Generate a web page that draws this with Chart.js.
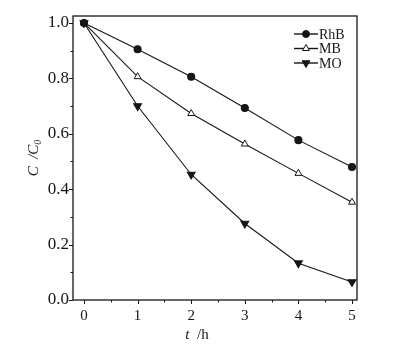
<!DOCTYPE html>
<html>
<head>
<meta charset="utf-8">
<script src="https://cdn.jsdelivr.net/npm/chart.js@4/dist/chart.umd.min.js"></script>
<style>
  body { margin: 0; background: #fff; }
  #wrap { width: 414px; height: 347px; }
</style>
</head>
<body>
<div id="wrap"><canvas id="myChart" width="414" height="347"></canvas></div>
<script>
/* data */
var times = [0, 1, 2, 3, 4, 5];
var rhb = [1.0, 0.905, 0.806, 0.693, 0.577, 0.48];
var mb  = [1.0, 0.806, 0.673, 0.563, 0.457, 0.353];
var mo  = [1.0, 0.70, 0.453, 0.276, 0.133, 0.065];
var seriesNames = ["RhB", "MB", "MO"];

var xTicks = [0, 1, 2, 3, 4, 5];
var xMinor = [0.5, 1.5, 2.5, 3.5, 4.5];
var yTicks = [0.0, 0.2, 0.4, 0.6, 0.8, 1.0];
var yMinor = [0.1, 0.3, 0.5, 0.7, 0.9];

var ink = "#161616";
var serif = "'Liberation Serif', 'DejaVu Serif', serif";

function toPoints(vals){
  var out = [];
  for (var i = 0; i < times.length; i++) {
    out.push({x: times[i], y: vals[i]});
  }
  return out
}

/*frame, minor/major ticks, axis titles and the legend*/
var decor = {
  id: 'decor',
  afterDraw: function(chart){
    var ctx = chart.ctx;
    var a = chart.chartArea;
    var xs = chart.scales.x, ys = chart.scales.y;
    ctx.save();
    ctx.strokeStyle = ink;
    ctx.lineWidth = 1.3;
    ctx.strokeRect(a.left, a.top, a.right - a.left, a.bottom - a.top);

    ctx.lineWidth = 1;
    ctx.beginPath();
    yTicks.forEach(function(v){
      var p = Math.round(ys.getPixelForValue(v)) + 0.5;
      ctx.moveTo(a.left - 4, p); ctx.lineTo(a.left, p);
    });
    yMinor.forEach(function(v){
      var p = Math.round(ys.getPixelForValue(v)) + 0.5;
      ctx.moveTo(a.left - 2.5, p); ctx.lineTo(a.left, p);
    });
    xTicks.forEach(function(v){
      var p = Math.round(xs.getPixelForValue(v)) + 0.5;
      ctx.moveTo(p, a.bottom); ctx.lineTo(p, a.bottom + 4);
    });
    xMinor.forEach(function(v){
      var p = Math.round(xs.getPixelForValue(v)) + 0.5;
      ctx.moveTo(p, a.bottom); ctx.lineTo(p, a.bottom + 2.5);
    });
    ctx.stroke();

    // x title: t /h
    ctx.fillStyle = ink;
    ctx.textBaseline = 'alphabetic';
    ctx.textAlign = 'left';
    ctx.font = 'italic 15px ' + serif;
    var w1 = ctx.measureText('t').width;
    ctx.font = '15px ' + serif;
    var w2 = ctx.measureText('  /h').width;
    var sx = 197 - (w1 + w2) / 2;
    ctx.font = 'italic 15px ' + serif;
    ctx.fillText('t', sx, 339);
    ctx.font = '15px ' + serif;
    ctx.fillText('  /h', sx + w1, 339);

    // y title: C /C0
    ctx.translate(38, 158);
    ctx.rotate(-Math.PI / 2);
    ctx.font = 'italic 15px ' + serif;
    var t1 = 'C  /C';
    var tw = ctx.measureText(t1).width;
    ctx.font = 'italic 10px ' + serif;
    var sw = ctx.measureText('0').width;
    var start = -(tw + sw) / 2;
    ctx.font = 'italic 15px ' + serif;
    ctx.fillText(t1, start, 0);
    ctx.font = 'italic 10px ' + serif;
    ctx.fillText('0', start + tw, 3);
    ctx.restore();

    // legend
    ctx.save();
    ctx.font = '14px ' + serif;
    ctx.textBaseline = 'middle';
    chart.data.datasets.forEach(function(ds, i){
      var y = 34 + i * 14.5;
      ctx.strokeStyle = ink;
      ctx.lineWidth = 1.4;
      ctx.beginPath();
      ctx.moveTo(294, y); ctx.lineTo(318, y);
      ctx.stroke();
      ctx.fillStyle = ds.pointBackgroundColor;
      ctx.strokeStyle = ink;
      ctx.lineWidth = 1;
      Chart.helpers.drawPoint(ctx, {
        pointStyle: ds.pointStyle, radius: ds.pointRadius,
        rotation: ds.pointRotation || 0, borderWidth: 1
      }, 306, y);
      ctx.fillStyle = ink;
      ctx.fillText(ds.label, 319, y + 1);
    });
    ctx.restore();
  }
};

var ctx = document.getElementById('myChart').getContext('2d');
var myChart = new Chart(ctx, {
  type: 'line',
  data: {
    datasets: [{
      label: seriesNames[0],
      data: toPoints(rhb),
      borderColor: ink, borderWidth: 1.1,
      pointStyle: 'circle', pointRadius: 3.5,
      pointBackgroundColor: ink, pointBorderColor: ink
    }, {
      label: seriesNames[1],
      data: toPoints(mb),
      borderColor: ink, borderWidth: 1.1,
      pointStyle: 'triangle', pointRadius: 4,
      pointBackgroundColor: '#ffffff', pointBorderColor: ink, pointBorderWidth: 1
    }, {
      label: seriesNames[2],
      data: toPoints(mo),
      borderColor: ink, borderWidth: 1.1,
      pointStyle: 'triangle', pointRadius: 4.5, pointRotation: 180,
      pointBackgroundColor: ink, pointBorderColor: ink
    }]
  },
  options: {
    responsive: false,
    animation: false,
    clip: false,
    layout: { padding: { left: 0, top: 16, right: 57, bottom: 0 } },
    plugins: { legend: { display: false }, tooltip: { enabled: false } },
    scales: {
      x: {
        type: 'linear',
        min: -0.205, max: 5.093,
        afterBuildTicks: function(s){ s.ticks = xTicks.map(function(v){ return {value: v}; }); },
        afterFit: function(s){ s.height = 47; },
        grid: { drawOnChartArea: false, drawTicks: false },
        border: { display: false },
        ticks: {
          color: ink, padding: 7, maxRotation: 0,
          font: { family: serif, size: 15 }
        }
      },
      y: {
        min: 0, max: 1.025,
        afterBuildTicks: function(s){ s.ticks = yTicks.map(function(v){ return {value: v}; }); },
        afterFit: function(s){ s.width = 73; },
        grid: { drawOnChartArea: false, drawTicks: false },
        border: { display: false },
        ticks: {
          color: ink, padding: 4,
          font: { family: serif, size: 17 },
          callback: function(v){ return v.toFixed(1); }
        }
      }
    }
  },
  plugins: [decor]
});
</script>
</body>
</html>
